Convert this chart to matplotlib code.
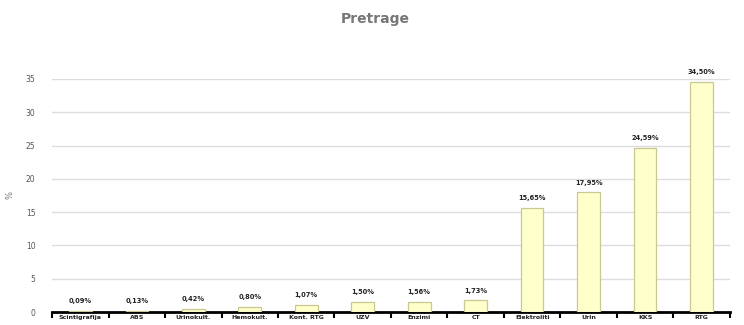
import matplotlib
matplotlib.use("Agg")
import matplotlib.pyplot as plt
import numpy as np

categories = ["Scintigrafija", "ABS", "Urinokult.", "Hemokult.", "Kont. RTG", "UZV",
              "Enzimi", "CT", "Elektroliti", "Urin", "KKS", "RTG"]
values = [0.09, 0.13, 0.42, 0.80, 1.07, 1.50, 1.56, 1.73, 15.65, 17.95, 24.59, 34.50]
value_labels = ["0,09%", "0,13%", "0,42%", "0,80%", "1,07%", "1,50%", "1,56%", "1,73%",
                "15,65%", "17,95%", "24,59%", "34,50%"]
yticks = [0, 5, 10, 15, 20, 25, 30, 35]

fig = plt.figure(figsize=(7.44, 3.25), dpi=100)
ax = fig.add_axes([0.070, 0.040, 0.911, 0.717])

x = np.arange(len(categories))
bars = ax.bar(x, values, width=0.4, color="#FFFFCC", edgecolor="#C8C890", linewidth=0.9, zorder=3)
for xi, v, lab in zip(x, values, value_labels):
    ax.annotate(lab, (xi, v), xytext=(0, 5), textcoords="offset points",
                ha="center", va="bottom", fontsize=4.8, fontweight="bold", color="#222222")

ax.set_xlim(-0.5, len(categories) - 0.5)
ax.set_ylim(0, 35)
ax.set_yticks(yticks)
ax.set_yticklabels([str(t) for t in yticks], fontsize=5.5, color="#555555")
ax.tick_params(axis="y", length=0, pad=12)
ax.yaxis.grid(True, color="#DDDDDD", linewidth=1.0, zorder=0)
ax.set_axisbelow(True)

ax.set_xticks(x)
ax.set_xticklabels(categories, fontsize=4.5, fontweight="bold", color="#222222")
ax.set_xticks(np.arange(-0.5, len(categories)), minor=True)
ax.tick_params(axis="x", which="major", length=0, pad=2)
ax.tick_params(axis="x", which="minor", length=4, width=1.5, color="black", direction="out")

for s in ["top", "right", "left"]:
    ax.spines[s].set_visible(False)
ax.spines["bottom"].set_linewidth(2)
ax.spines["bottom"].set_color("black")

ax.set_ylabel("%", fontsize=6, color="#777777", rotation=90, labelpad=8)
fig.text(0.505, 0.94, "Pretrage", ha="center", va="center", fontsize=10,
         fontweight="bold", color="#777777")

fig.savefig("out.png", dpi=100)
